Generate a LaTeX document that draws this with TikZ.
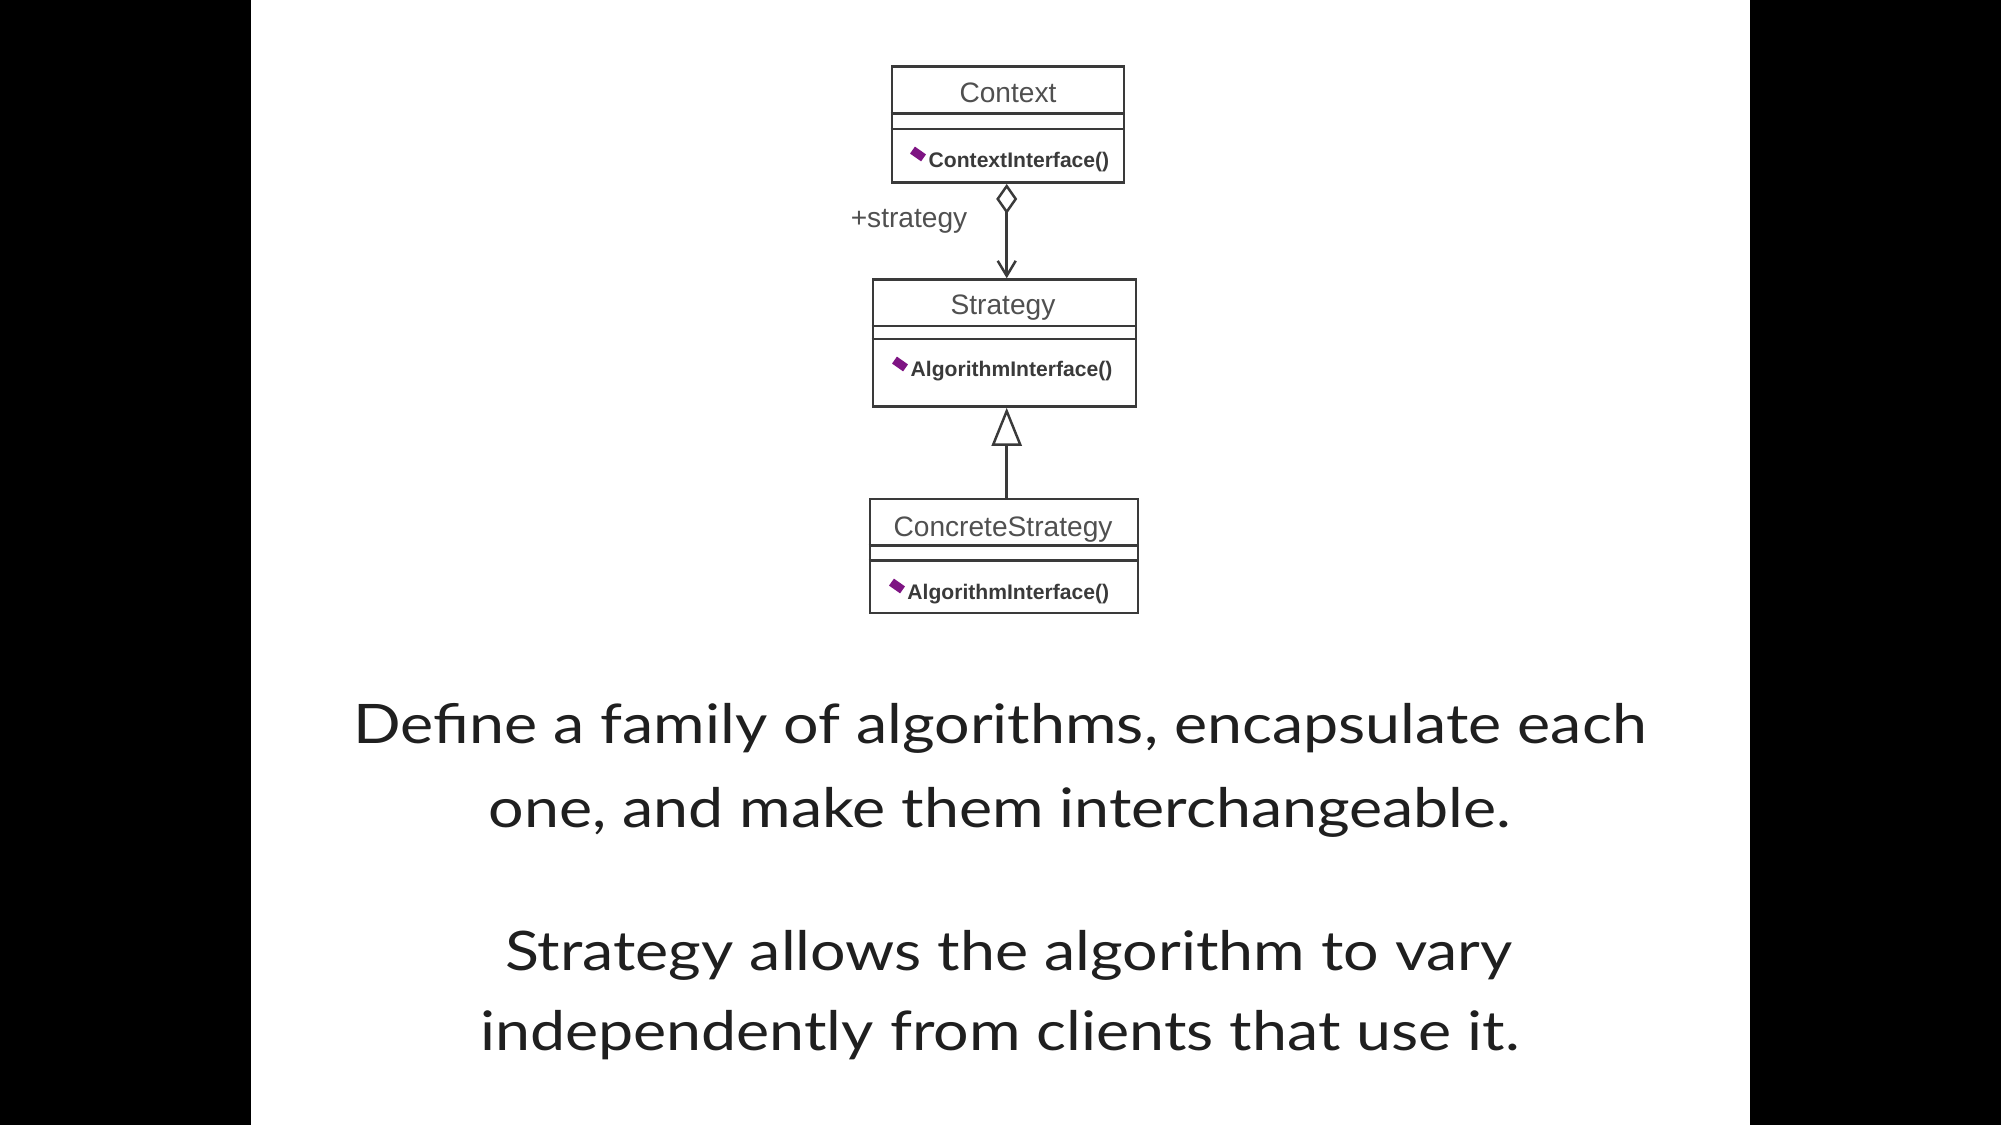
\documentclass[tikz,border=0pt]{standalone}
\usepackage{fontspec}
\setmainfont[FakeStretch=1.15]{Lato}
\newfontfamily\umlfont{Liberation Sans}
\usetikzlibrary{arrows.meta,positioning}

\definecolor{umlline}{HTML}{3A3A3A}
\definecolor{umltext}{HTML}{505050}
\definecolor{opicon}{HTML}{7E1483}

\tikzset{
  classbox/.style={draw=umlline,line width=0.7pt,fill=white,inner sep=0pt},
  classname/.style={font=\umlfont\fontsize{8}{9}\selectfont,text=umltext,anchor=base,inner sep=0pt},
  classop/.style={font=\umlfont\bfseries\fontsize{6}{7}\selectfont,text=umlline,anchor=base west,inner sep=0pt},
  opmark/.style={fill=opicon,minimum width=1.35mm,minimum height=0.85mm,inner sep=0pt,rotate=-35},
  slidetext/.style={font=\fontsize{15.5}{18}\selectfont,text=black!88,anchor=base,inner sep=0pt}
}

\begin{document}
\begin{tikzpicture}[x=0.01cm,y=-0.01cm]
% slide
\fill[black] (0,0) rectangle (2001,1125);
\fill[white] (251,0) rectangle (1750,1125);

% classes
\node[classbox,minimum width=2.32cm,minimum height=1.16cm] (ctx) at (1008,124.7) {};
\draw[umlline,line width=0.7pt] (ctx.west |- 0,113.3) -- (ctx.east |- 0,113.3)
  (ctx.west |- 0,129) -- (ctx.east |- 0,129);
\node[classname] (ctxname) at (1008,103) {Context};
\node[opmark] (ctxicon) at (918,154) {};
\node[classop] (ctxop) at (928,168) {ContextInterface()};

\node[classbox,minimum width=2.63cm,minimum height=1.27cm] (str) at (1004.5,343) {};
\draw[umlline,line width=0.7pt] (str.west |- 0,326) -- (str.east |- 0,326)
  (str.west |- 0,339) -- (str.east |- 0,339);
\node[classname] (strname) at (1003,315) {Strategy};
\node[opmark] (stricon) at (900,364) {};
\node[classop] (strop) at (910,376.7) {AlgorithmInterface()};

\node[classbox,minimum width=2.68cm,minimum height=1.14cm] (cst) at (1004,556) {};
\draw[umlline,line width=0.7pt] (cst.west |- 0,545.3) -- (cst.east |- 0,545.3)
  (cst.west |- 0,560.7) -- (cst.east |- 0,560.7);
\node[classname] (cstname) at (1003,536.7) {ConcreteStrategy};
\node[opmark] (csticon) at (897,586) {};
\node[classop] (cstop) at (906.7,600) {AlgorithmInterface()};

% relations
\coordinate (aggtop) at (1006.7,0 |- ctx.south);
\draw[umlline,line width=0.7pt,{Diamond[open,length=0.3cm,width=0.21cm]}-{Straight Barb[length=0.15cm,width=0.18cm]}]
  (aggtop) -- (aggtop |- str.north);
\node[classname,anchor=base east] (role) at (968,228) {+strategy};
\coordinate (genbot) at (1006.7,0 |- cst.north);
\draw[umlline,line width=0.7pt,-{Triangle[open,fill=white,length=0.38cm,width=0.3cm]}]
  (genbot) -- (genbot |- str.south);

% text
\node[slidetext] (def1) at (1000,743) {Define a family of algorithms, encapsulate each};
\node[slidetext] (def2) at (1000,827) {one, and make them interchangeable.};
\node[slidetext] (note1) at (1009,970) {Strategy allows the algorithm to vary};
\node[slidetext] (note2) at (1000,1050) {independently from clients that use it.};
\end{tikzpicture}
\end{document}
